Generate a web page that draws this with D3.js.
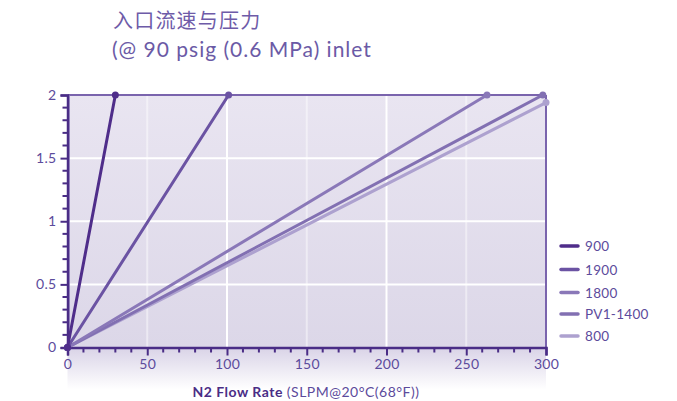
<!DOCTYPE html>
<html>
<head>
<meta charset="utf-8">
<script src="https://cdn.jsdelivr.net/npm/d3@7"></script>
<style>
  html, body { margin: 0; padding: 0; background: #ffffff; }
  svg { display: block; }
  text { font-family: "Lato", "Open Sans", sans-serif; }
</style>
</head>
<body>
<div id="chart"></div>
<script>
// Inlet flow vs pressure, one straight line per regulator model
const seriesNames = ["900", "1900", "1800", "PV1-1400", "800"];
const flowStart = [0, 0, 0, 0, 0];
const pressureStart = [0, 0, 0, 0, 0];
const flowEnd = [30, 101, 263, 298, 300];
const pressureEnd = [2, 2, 2, 2, 1.94];
const seriesColors = ["#4f2d8a", "#6b53a3", "#8a78b8", "#8270b2", "#ada1cf"];

const xTicks = [0, 50, 100, 150, 200, 250, 300];
const yTicks = [0, 0.5, 1, 1.5, 2];
const yTickLabels = ["0", "0.5", "1", "1.5", "2"];

const W = 677, H = 401;
const margin = { left: 67.5, right: 131, top: 95, bottom: 53.5 };
const innerW = W - margin.left - margin.right;
const innerH = H - margin.top - margin.bottom;

const svg = d3.select("#chart").append("svg").attr("width", W).attr("height", H);

const defs = svg.append("defs");
const bg = defs.append("linearGradient").attr("id", "plotBg").attr("x1", 0).attr("y1", 0).attr("x2", 0).attr("y2", 1);
bg.append("stop").attr("offset", "0%").attr("stop-color", "#e9e5f1");
bg.append("stop").attr("offset", "100%").attr("stop-color", "#dcd7e8");
const fade = defs.append("linearGradient").attr("id", "belowFade").attr("x1", 0).attr("y1", 0).attr("x2", 0).attr("y2", 1);
fade.append("stop").attr("offset", "0%").attr("stop-color", "#d9d3e7");
fade.append("stop").attr("offset", "100%").attr("stop-color", "#ffffff");

const x = d3.scaleLinear().domain([0, 300]).range([0, innerW]);
const y = d3.scaleLinear().domain([0, 2]).range([innerH, 0]);

// Title
svg.append("text").attr("x", 113).attr("y", 28)
  .attr("font-size", 20).attr("fill", "#6e5ba8")
  .attr("letter-spacing", 1.2)
  .style("font-family", "'Noto Sans CJK SC', sans-serif")
  .style("font-weight", 400)
  .text("入口流速与压力");
svg.append("text").attr("x", 112).attr("y", 57)
  .attr("font-size", 21).attr("fill", "#6b5aa6")
  .attr("letter-spacing", 1.0)
  .text("(@ 90 psig (0.6 MPa) inlet");

const g = svg.append("g").attr("transform", `translate(${margin.left},${margin.top})`);

// Soft fade under the plot area
g.append("rect").attr("x", 0).attr("y", innerH).attr("width", innerW).attr("height", 42)
  .attr("fill", "url(#belowFade)");

// Plot background
g.append("rect").attr("x", 0).attr("y", 0).attr("width", innerW).attr("height", innerH)
  .attr("fill", "url(#plotBg)");

// Grid lines
const xGrid = xTicks.filter(d => d > 0 && d < 300);
g.selectAll(".xgrid").data(xGrid).join("line")
  .attr("x1", d => x(d)).attr("x2", d => x(d))
  .attr("y1", 0).attr("y2", innerH)
  .attr("stroke", "#ffffff")
  .attr("stroke-opacity", d => d % 100 === 0 ? 1 : 0.45)
  .attr("stroke-width", 2);
g.selectAll(".ygrid").data(yTicks.filter(d => d > 0 && d < 2)).join("line")
  .attr("x1", 0).attr("x2", innerW)
  .attr("y1", d => y(d)).attr("y2", d => y(d))
  .attr("stroke", "#ffffff").attr("stroke-width", 2);

// Frame: top and right borders
g.append("line").attr("x1", 0).attr("x2", innerW).attr("y1", 0).attr("y2", 0)
  .attr("stroke", "#7a64ad").attr("stroke-width", 2);
g.append("line").attr("x1", innerW).attr("x2", innerW).attr("y1", 0).attr("y2", innerH)
  .attr("stroke", "#7a64ad").attr("stroke-width", 2);
g.append("line").attr("x1", 1.5).attr("x2", 1.5).attr("y1", 0).attr("y2", innerH)
  .attr("stroke", "#9a88c6").attr("stroke-width", 1.5);

const axisColor = "#4a2d86";
const labelColor = "#5c4b9c";

// Y axis: major ticks at 0.5, minor every 0.1
const yAxis = d3.axisLeft(y).tickValues(yTicks)
  .tickFormat((d, i) => yTickLabels[i]).tickSize(7).tickPadding(4);
const yAxisG = g.append("g").call(yAxis);
yAxisG.select(".domain").attr("stroke", axisColor).attr("stroke-width", 2.5);
yAxisG.selectAll(".tick line").attr("stroke", axisColor).attr("stroke-width", 2);
yAxisG.selectAll(".tick text").attr("fill", labelColor).attr("font-size", 14)
  .attr("letter-spacing", 0.3)
  .style("font-family", "Lato, sans-serif");
const yMinor = d3.range(0, 2.0001, 0.1).filter(v => Math.abs(v * 2 - Math.round(v * 2)) > 1e-6);
g.selectAll(".yminor").data(yMinor).join("line")
  .attr("x1", -5).attr("x2", 0)
  .attr("y1", d => y(d)).attr("y2", d => y(d))
  .attr("stroke", axisColor).attr("stroke-width", 2);

// X axis: major ticks every 50, minor every 10
const xAxis = d3.axisBottom(x).tickValues(xTicks).tickSize(8).tickPadding(4);
const xAxisG = g.append("g").attr("transform", `translate(0,${innerH})`).call(xAxis);
xAxisG.select(".domain").attr("stroke", axisColor).attr("stroke-width", 2.5);
xAxisG.selectAll(".tick line").attr("stroke", axisColor).attr("stroke-width", 2);
xAxisG.selectAll(".tick text").attr("fill", labelColor).attr("font-size", 14)
  .attr("letter-spacing", 0.3)
  .style("font-family", "Lato, sans-serif");
const xMinor = d3.range(10, 300, 10).filter(v => v % 50 !== 0);
g.selectAll(".xminor").data(xMinor).join("line")
  .attr("x1", d => x(d)).attr("x2", d => x(d))
  .attr("y1", innerH).attr("y2", innerH + 5)
  .attr("stroke", axisColor).attr("stroke-width", 2);

// X axis title
const xt = svg.append("text").attr("x", 306).attr("y", 397)
  .attr("text-anchor", "middle").attr("font-size", 14).attr("fill", axisColor)
  .attr("letter-spacing", 0.5);
xt.append("tspan").attr("font-weight", "bold").text("N2 Flow Rate ");
xt.append("tspan").attr("fill", labelColor).text("(SLPM@20°C(68°F))");

// Series lines, drawn light to dark so the darkest sits on top
const series = seriesNames.map((name, i) => ({
  name,
  color: seriesColors[i],
  pts: [[flowStart[i], pressureStart[i]], [flowEnd[i], pressureEnd[i]]]
}));
const line = d3.line().x(d => x(d[0])).y(d => y(d[1]));
const order = [4, 3, 2, 1, 0];
order.forEach(i => {
  const s = series[i];
  g.append("path").datum(s.pts).attr("d", line)
    .attr("fill", "none").attr("stroke", s.color).attr("stroke-width", 3)
    .attr("stroke-linecap", "round");
  g.selectAll(null).data(s.pts).join("circle")
    .attr("cx", d => x(d[0])).attr("cy", d => y(d[1])).attr("r", 3.5)
    .attr("fill", s.color);
});

// Legend
const legend = svg.append("g").attr("transform", "translate(561,246)");
const legendGap = [0, 23.5, 46.5, 68, 90];
series.forEach((s, i) => {
  const row = legend.append("g").attr("transform", `translate(0,${legendGap[i]})`);
  row.append("line").attr("x1", 0).attr("x2", 17).attr("y1", 0).attr("y2", 0)
    .attr("stroke", s.color).attr("stroke-width", 3.5).attr("stroke-linecap", "round");
  row.append("text").attr("x", 24).attr("y", 5).attr("font-size", 13.5)
    .attr("letter-spacing", 0.3)
    .attr("fill", labelColor).text(s.name);
});
</script>
</body>
</html>
